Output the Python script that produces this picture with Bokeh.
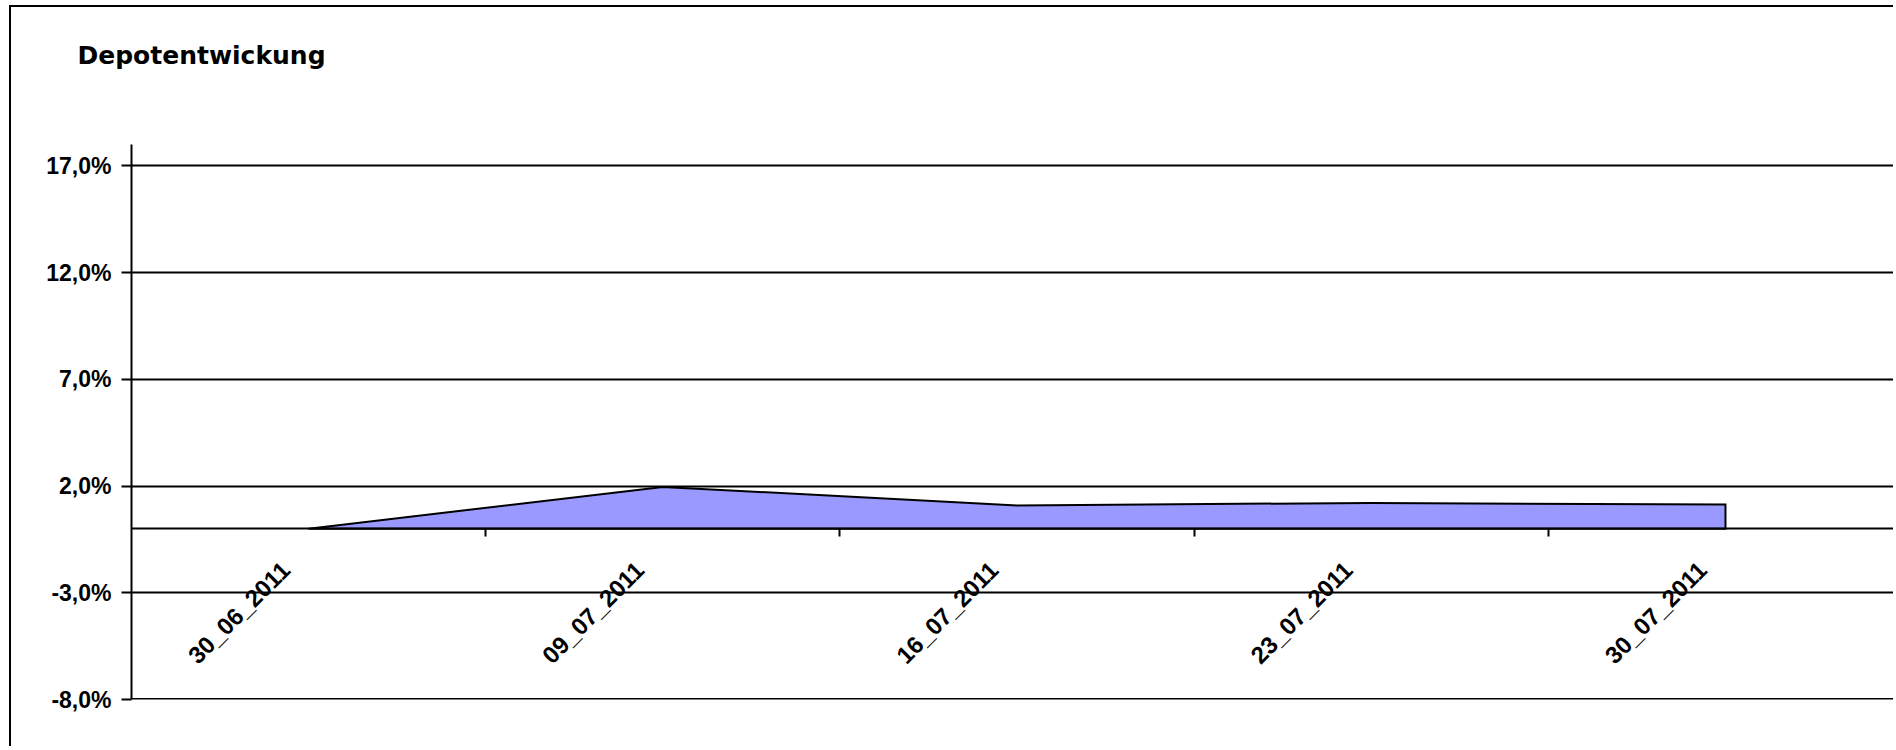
from math import pi
from bokeh.plotting import figure
from bokeh.models import Range1d, LinearAxis, FixedTicker, Span
from bokeh.embed import file_html
from bokeh.resources import INLINE

# ---- data ----
dates = ["30_06_2011", "09_07_2011", "16_07_2011", "23_07_2011", "30_07_2011"]
values = [0.0, 1.96, 1.09, 1.21, 1.13]
y_ticks = [-8, -3, 2, 7, 12, 17]
y_tick_labels = ["-8,0%", "-3,0%", "2,0%", "7,0%", "12,0%", "17,0%"]
title_text = "Depotentwickung"

FONT = "Liberation Sans"

x_pos = [i + 0.5 for i in range(len(dates))]
label_pos = [x - 0.065 for x in x_pos]          # rotated labels sit slightly left of centre
boundaries = list(range(1, len(dates) + 1))

p = figure(width=1884, height=741, output_backend="svg", toolbar_location=None,
           x_range=Range1d(0, len(dates) - 0.02), y_range=Range1d(-8, 18),
           x_axis_location=None, y_axis_location="left",
           min_border_left=120, min_border_right=0, min_border_top=137, min_border_bottom=49,
           title=title_text)
p.styles = {"margin-left": "9px", "margin-top": "5px",
            "border-left": "2px solid black", "border-top": "2px solid black"}
p.outline_line_color = None
p.background_fill_color = "white"
p.border_fill_color = "white"

# title
p.title.text_font = "DejaVu Sans"
p.title.text_font_style = "bold"
p.title.text_font_size = "25px"
p.title.text_color = "black"
p.title.align = "left"
p.title.offset = -54
p.title.standoff = 10

# invisible spacer between title and plot area (keeps title high without moving the frame)
spacer = LinearAxis(ticker=FixedTicker(ticks=[0]), axis_line_color=None,
                    major_tick_out=70, major_tick_in=0, major_tick_line_color=None,
                    minor_tick_line_color=None, major_label_standoff=0,
                    major_label_overrides={0: ""}, major_label_text_color=None,
                    major_label_text_font_size="0px")
p.add_layout(spacer, "above")

# grid
p.xgrid.visible = False
p.ygrid.ticker = FixedTicker(ticks=y_ticks)
p.ygrid.grid_line_color = "black"
p.ygrid.grid_line_width = 2

# y axis
ya = p.yaxis[0]
ya.ticker = FixedTicker(ticks=y_ticks)
ya.major_label_overrides = dict(zip(y_ticks, y_tick_labels))
ya.axis_line_width = 2
ya.axis_line_color = "black"
ya.major_tick_out = 10
ya.major_tick_in = 0
ya.major_tick_line_width = 2
ya.major_tick_line_color = "black"
ya.minor_tick_line_color = None
ya.major_label_standoff = 10
ya.major_label_text_font = FONT
ya.major_label_text_font_style = "bold"
ya.major_label_text_font_size = "23px"
ya.major_label_text_color = "black"

# bottom border of the plot area
p.add_layout(Span(location=y_ticks[0], dimension="width", line_color="black", line_width=3))

# area
xs = x_pos + [x_pos[-1], x_pos[0]]
ys = values + [0, 0]
p.patch(xs, ys, fill_color="#9999FF", line_color="black", line_width=2, line_join="miter")

# category axis crossing at zero: ticks between categories
tick_axis = LinearAxis(fixed_location=0, ticker=FixedTicker(ticks=boundaries),
                       axis_line_color="black", axis_line_width=2,
                       major_tick_out=8, major_tick_in=0, major_tick_line_width=2,
                       major_tick_line_color="black", minor_tick_line_color=None,
                       major_label_text_color=None, major_label_text_font_size="1px")
p.add_layout(tick_axis, "below")

label_axis = LinearAxis(fixed_location=0, ticker=FixedTicker(ticks=label_pos),
                        major_label_overrides=dict(zip(label_pos, dates)),
                        axis_line_color=None, major_tick_line_color=None,
                        minor_tick_line_color=None, major_tick_out=0, major_tick_in=0,
                        major_label_orientation=pi / 4, major_label_standoff=37,
                        major_label_text_font=FONT, major_label_text_font_style="bold",
                        major_label_text_font_size="24px", major_label_text_color="black")
p.add_layout(label_axis, "below")

open("out.html", "w").write(file_html(p, INLINE))
